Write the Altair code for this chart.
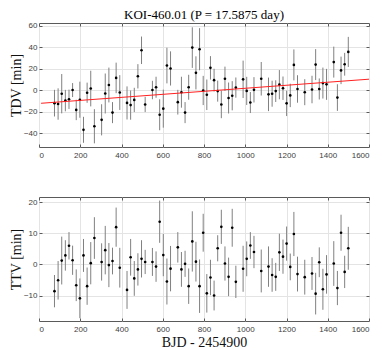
import altair as alt
import pandas as pd

# Transit times (BJD - 2454900)
bjd = [75.0, 92.6, 110.2, 127.8, 145.4, 162.9, 180.5, 198.1, 215.7, 233.3, 250.9, 268.5,
       303.6, 321.2, 338.8, 356.4, 374.0, 391.6, 426.8, 444.3, 461.9, 479.5, 497.1, 514.7,
       549.9, 567.5, 585.0, 602.6, 620.2, 637.8, 673.0, 690.6, 708.2, 725.7, 743.3, 760.9,
       778.5, 796.1, 813.7, 831.3, 848.9, 866.4, 884.0, 901.6, 919.2, 936.8, 954.4, 989.6,
       1007.1, 1024.7, 1042.3, 1077.5, 1112.7, 1130.3, 1147.8, 1165.4, 1183.0, 1200.6, 1218.2,
       1235.8, 1253.4, 1288.5, 1323.7, 1341.3, 1358.9, 1376.5, 1394.1, 1429.2, 1446.8, 1464.4,
       1482.0, 1499.6]

tdv = [-12.2, -13.0, -3.4, -9.8, -8.6, 0.0, -18.5, -9.0, -37.0, -2.5, 1.4, -33.7,
       -27.7, -3.2, 4.7, -21.0, 11.3, -2.3, -12.0, -14.0, -9.2, 12.8, 37.0, -13.4,
       0.0, 2.6, -23.0, -17.3, 22.8, 20.1, -11.3, -2.0, -21.0, 2.6, 39.5, 16.0,
       38.0, -0.4, -4.4, 20.7, 9.2, -1.0, -13.4, 10.5, -7.4, -5.3, 2.3, 10.0,
       -0.8, -11.6, 0.2, 10.5, -4.0, -3.4, -1.0, 5.0, 1.7, -12.4, -5.0,
       23.4, 1.0, -2.0, 0.5, 23.7, 1.0, 6.5, 5.3, 26.0, -7.0, 18.3,
       24.0, 35.5]
tdv_err = [12.4, 14.6, 18.3, 10.0, 9.0, 6.5, 9.5, 16.8, 12.1, 9.4, 16.6, 15.9,
           14.5, 18.6, 16.2, 9.8, 14.2, 16.2, 15.4, 13.6, 11.3, 11.3, 12.8, 7.1,
           8.6, 9.8, 14.4, 17.7, 16.6, 15.9, 11.5, 14.4, 9.8, 11.6, 18.9, 15.4,
           19.6, 13.6, 14.2, 10.9, 10.6, 9.8, 12.8, 11.3, 14.4, 13.6, 9.4, 17.4,
           13.1, 9.8, 11.8, 15.6, 15.6, 12.1, 10.1, 13.6, 10.9, 11.8, 10.9,
           14.4, 12.8, 12.1, 12.8, 14.4, 9.8, 14.4, 14.4, 14.4, 12.4, 12.8,
           10.6, 14.0]

ttv = [-8.6, -5.1, 1.25, 2.9, 6.0, 1.35, -6.7, -10.9, 2.9, -7.0, 0.4, 8.5,
       0.8, 4.6, -0.2, 1.1, 12.0, -1.05, -8.2, 2.3, -4.5, -1.6, 1.8, 0.8,
       0.8, -0.7, 13.75, 3.0, -5.5, -1.35, 5.5, -1.6, 0.2, -7.0, 7.4, 0.9,
       -7.0, 10.2, -9.3, -4.2, -10.0, 5.2, 12.1, 0.3, -4.0, 11.8, -5.6, -1.4,
       1.8, 6.1, 4.0, -2.1, -0.7, -3.4, -4.0, 3.9, 2.5, 6.7, -0.8,
       9.8, -3.1, -4.1, -2.9, -9.4, 0.7, -8.0, -3.2, 0.3, -7.6, 10.2,
       -2.4, 5.2]
ttv_err = [5.2, 6.2, 7.7, 4.9, 4.4, 4.7, 5.1, 6.4, 5.3, 6.0, 6.8, 6.7,
           6.0, 7.8, 7.1, 4.3, 6.3, 6.4, 6.1, 5.9, 5.6, 5.2, 6.0, 3.9,
           4.5, 4.9, 6.8, 6.8, 7.4, 7.3, 4.9, 5.6, 4.2, 5.7, 9.7, 6.4,
           8.6, 6.1, 6.2, 5.7, 4.8, 4.2, 5.5, 5.5, 6.2, 6.1, 5.2, 7.4,
           5.6, 4.3, 5.2, 6.9, 6.5, 5.4, 4.5, 6.0, 5.5, 5.5, 4.3,
           7.1, 5.6, 5.6, 5.3, 6.7, 4.8, 6.6, 6.2, 7.2, 5.5, 5.8,
           5.2, 6.9]

# Linear fit to TDV (end points)
fit_x = [10, 1600]
fit_y = [-12.3, 10.1]

x_ticks = [0, 200, 400, 600, 800, 1000, 1200, 1400, 1600]
tdv_ticks = [-40, -20, 0, 20, 40, 60]
ttv_ticks = [-10, 0, 10, 20]

W, H = 330, 124
SERIF = "Liberation Serif"
SANS = "Liberation Sans"
xscale = alt.Scale(domain=[0, 1600], nice=False, zero=False)


def make_df(v, e):
    d = pd.DataFrame({"x": bjd, "v": v, "e": e})
    d["lo"] = d["v"] - d["e"]
    d["hi"] = d["v"] + d["e"]
    return d


def panel(df, ytitle, ydomain, yticks, xtitle, fit=None, title=None):
    yscale = alt.Scale(domain=ydomain, nice=False, zero=False)
    base = alt.Chart(df)
    xaxis_kw = dict(values=x_ticks, format="d", offset=-3, tickSize=3, labelPadding=4)
    if xtitle:
        xaxis_kw["title"] = xtitle
        xaxis_kw["titlePadding"] = 2
    else:
        xaxis_kw["title"] = None
    bars = base.mark_rule(color="#808080", strokeWidth=1, clip=True).encode(
        x=alt.X("x:Q", scale=xscale, axis=alt.Axis(**xaxis_kw)),
        y=alt.Y("lo:Q", scale=yscale,
                axis=alt.Axis(values=yticks, title=ytitle, offset=-3, tickSize=3,
                              labelPadding=2, titlePadding=0)),
        y2="hi:Q",
    )
    pts = base.mark_circle(color="black", size=7, opacity=1, clip=True).encode(
        x=alt.X("x:Q", scale=xscale,
                axis=alt.Axis(orient="top", values=x_ticks, labels=False, title=None,
                              grid=False, offset=-3, tickSize=3)),
        y=alt.Y("v:Q", scale=yscale,
                axis=alt.Axis(orient="right", values=yticks, labels=False, title=None,
                              grid=False, offset=-3, tickSize=3)),
    )
    layers = [bars, pts]
    if fit is not None:
        line = alt.Chart(fit).mark_line(color="#ff2020", strokeWidth=1, clip=True).encode(
            x=alt.X("fx:Q", scale=xscale, axis=None),
            y=alt.Y("fy:Q", scale=yscale, axis=None),
        )
        layers.append(line)
    props = dict(width=W, height=H)
    if title:
        props["title"] = alt.TitleParams(title, font=SERIF, fontSize=13, fontWeight="normal",
                                         color="black", frame="group", anchor="middle", offset=0)
    return alt.layer(*layers).resolve_axis(x="independent", y="independent").properties(**props)


top = panel(make_df(tdv, tdv_err), "TDV [min]", [-53, 62.4], tdv_ticks, None,
            fit=pd.DataFrame({"fx": fit_x, "fy": fit_y}),
            title="KOI-460.01 (P = 17.5875 day)")
bottom = panel(make_df(ttv, ttv_err), "TTV [min]", [-18.2, 21.7], ttv_ticks, "BJD - 2454900")

chart = alt.vconcat(top, bottom, spacing=36).configure(
    padding=0,
    background="white",
).configure_view(
    stroke="#5a5a5a", strokeWidth=1,
).configure_axis(
    labelFont=SANS, labelFontSize=8, labelColor="#404040",
    titleFont=SERIF, titleFontSize=14, titleFontWeight="normal", titleColor="#111111",
    gridColor="#e4e4e4", gridWidth=1, domain=False, tickColor="#5a5a5a",
)

chart.save("out.html", embed_options={"renderer": "svg", "actions": False})
